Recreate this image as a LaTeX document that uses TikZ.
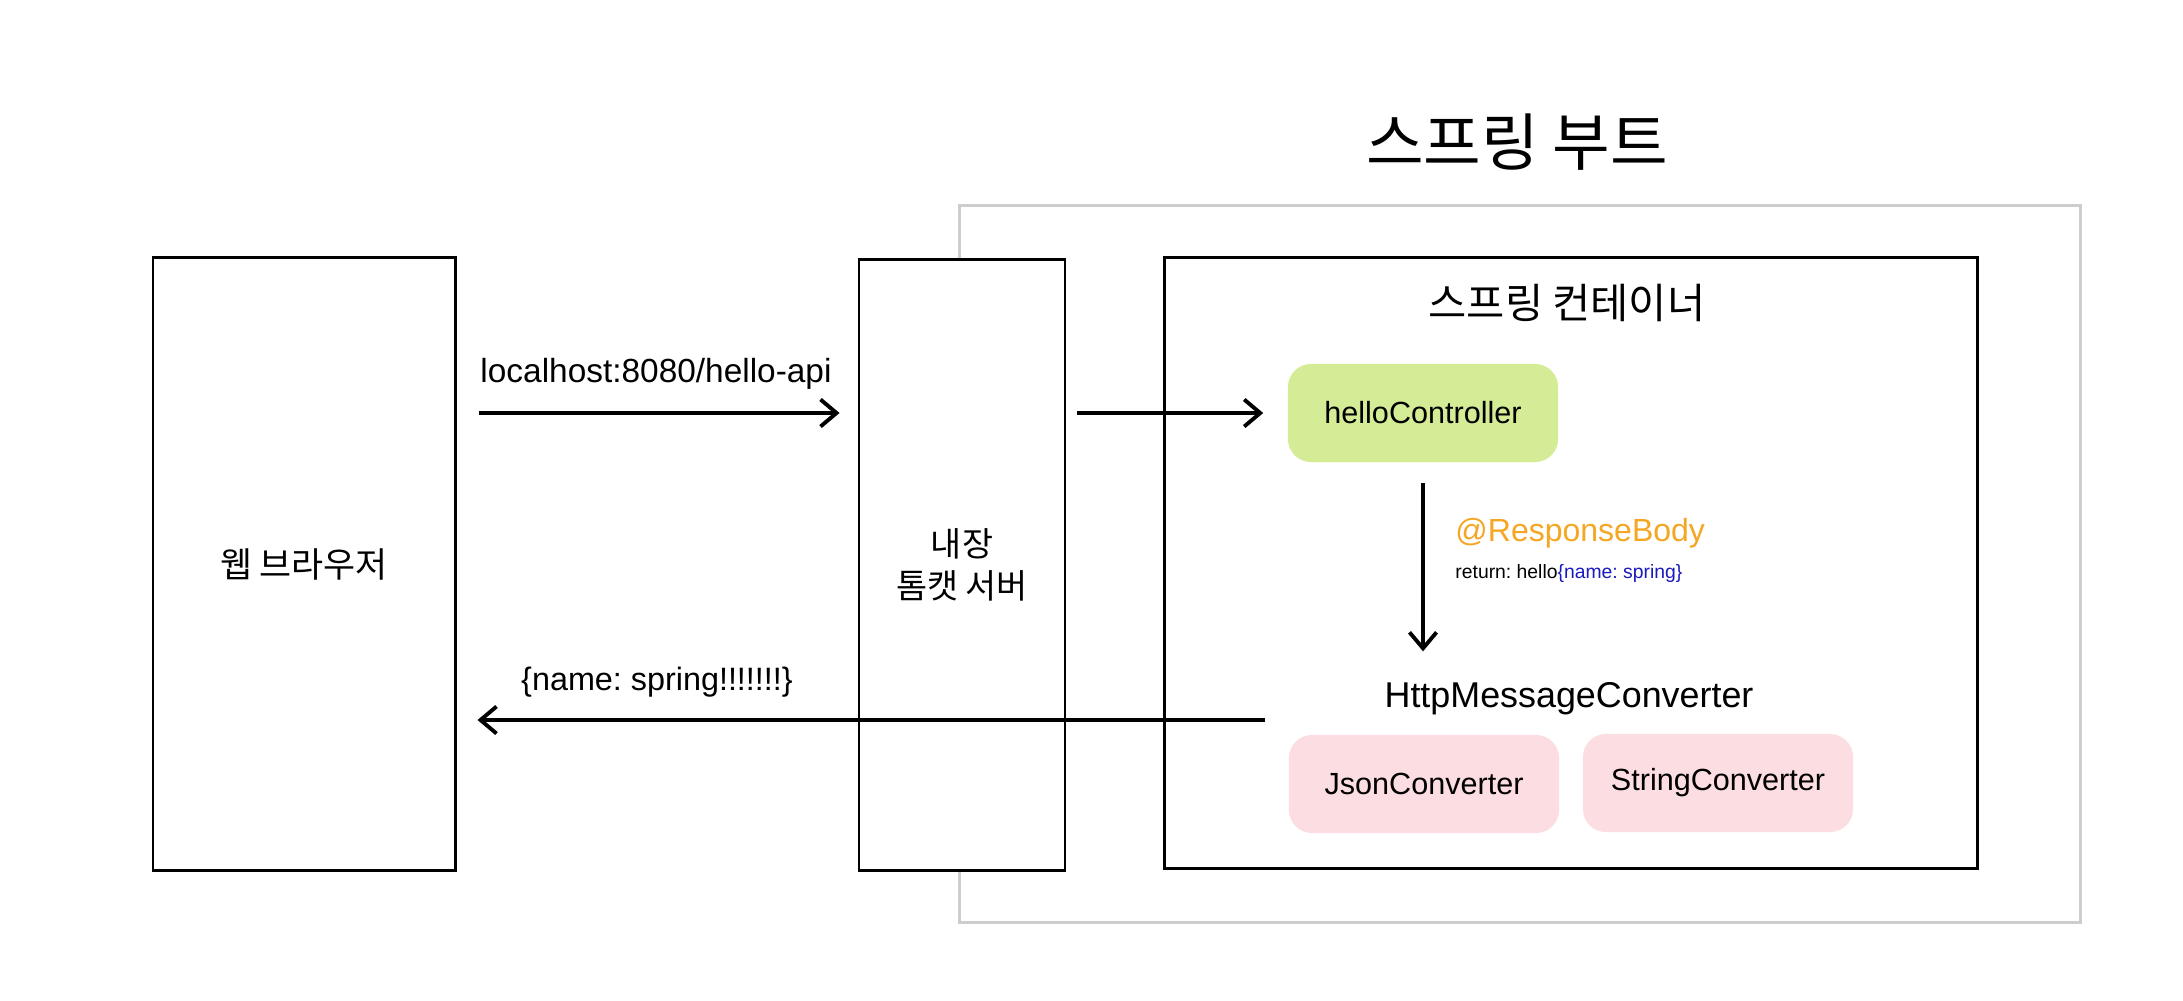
\documentclass[tikz,border=0pt]{standalone}
\usepackage{fontspec}
\setmainfont{Liberation Sans}
\newfontfamily\kr{Noto Sans CJK KR}
\usetikzlibrary{arrows.meta}
\frenchspacing
\definecolor{ctrlgreen}{RGB}{213,236,150}
\definecolor{convpink}{RGB}{252,222,226}
\definecolor{annoorange}{RGB}{245,166,35}
\definecolor{jsonblue}{RGB}{25,25,190}
\definecolor{bootgray}{RGB}{205,205,205}
\begin{document}
\begin{tikzpicture}[x=0.01cm,y=-0.01cm,>={Straight Barb[length=1.6mm,width=2.7mm]},
  box/.style={draw,line width=0.8pt,fill=white,inner sep=0pt},
  pill/.style={rounded corners=0.23cm,inner sep=0pt,minimum width=2.7cm,minimum height=0.98cm,font=\fontsize{8.7}{10}\selectfont},
  flow/.style={->,line width=1.1pt}]
  \useasboundingbox (0,0) rectangle (2183,1000);
  % spring boot frame and title
  \node[draw=bootgray,line width=0.9pt,minimum width=11.2cm,minimum height=7.17cm] (boot) at (1520,564) {};
  \node[font=\kr\fontsize{17.8}{20}\selectfont] (boottitle) at (1517,142) {스프링 부트};
  % boxes
  \node[box,minimum width=3.02cm,minimum height=6.13cm,font=\kr\fontsize{9.9}{12}\selectfont] (browser) at (304,564) {웹 브라우저};
  \node[box,minimum width=2.06cm,minimum height=6.10cm,align=center,font=\kr\fontsize{9.6}{12}\selectfont] (tomcat) at (962,565) {내장\\톰캣 서버};
  \node[box,minimum width=8.13cm,minimum height=6.11cm] (container) at (1571,563) {};
  \node[font=\kr\fontsize{11.8}{14}\selectfont] (containertitle) at (1567,303) {스프링 컨테이너};
  \node[pill,fill=ctrlgreen] (hello) at (1423,413) {helloController};
  \node[font=\fontsize{10.2}{12}\selectfont] (conv) at (1569,699) {HttpMessageConverter};
  \node[pill,fill=convpink] (json) at (1424,784) {JsonConverter};
  \node[pill,fill=convpink] (string) at (1718,783) {StringConverter};
  % annotation
  \node[anchor=west,text=annoorange,font=\fontsize{9.1}{11}\selectfont] (anno) at (1443,533) {@ResponseBody};
  \node[anchor=west,font=\fontsize{5.5}{7}\selectfont] (ret) at (1443,573) {return: hello\textcolor{jsonblue}{\{name: spring\}}};
  % connectors
  \coordinate (back) at (1265,720);
  \draw[flow,shorten <=0.22cm,shorten >=0.18cm] (browser.east |- hello) -- (tomcat.west |- hello);
  \draw[flow,shorten <=0.11cm,shorten >=0.24cm] (tomcat.east |- hello) -- (hello.west);
  \draw[flow,shorten <=0.2cm,shorten >=0.19cm] (hello.south) -- (hello.south |- conv.north);
  \draw[flow,shorten >=0.21cm] (back) -- (browser.east |- back);
  \node[font=\fontsize{9.5}{11}\selectfont] (req) at (656,374) {localhost:8080/hello-api};
  \node[font=\fontsize{9.2}{11}\selectfont] (resp) at (657,682) {\{name: spring!!!!!!!\}};
\end{tikzpicture}
\end{document}
